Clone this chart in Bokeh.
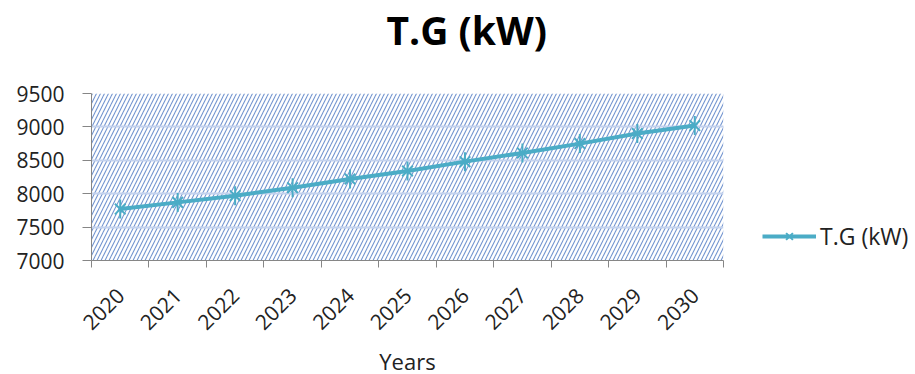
from bokeh.plotting import figure
from bokeh.models import (Range1d, FixedTicker, Legend, LegendItem,
                          ColumnDataSource, Title)
from bokeh.embed import file_html
from bokeh.resources import INLINE
import math

years = ["2020", "2021", "2022", "2023", "2024", "2025", "2026", "2027", "2028", "2029", "2030"]
tg_kw = [7770, 7870, 7970, 8090, 8220, 8340, 8480, 8610, 8750, 8900, 9020]
y_ticks = [7000, 7500, 8000, 8500, 9000, 9500]
series_name = "T.G (kW)"
title_text = "T.G (kW)"
x_label = "Years"

FONT = "Open Sans"
LINE_COLOR = "#4BACC6"

xpos = [i + 0.5 for i in range(len(years))]
src = ColumnDataSource(dict(x=xpos, y=tg_kw, year=years))

p = figure(frame_width=632, frame_height=167, output_backend="svg", toolbar_location=None,
           x_range=Range1d(0, len(years)), y_range=Range1d(y_ticks[0], y_ticks[-1]),
           min_border_left=91, min_border_right=192, min_border_top=93,
           min_border_bottom=114, background_fill_color="white",
           border_fill_color="white", outline_line_color=None)

# spacer between title and plot area (first 'above' item sits next to the frame)
spacer = Title(text=" ", text_font=FONT, text_font_size="10px", standoff=22)
p.add_layout(spacer, "above")
t = Title(text=title_text, text_font=FONT, text_font_size="39px",
          text_font_style="bold", text_color="black", align="left",
          standoff=0, offset=295)
p.add_layout(t, "above")
p.title.visible = False

# hatched plot area
p.quad(left=[0], right=[len(years)], bottom=[y_ticks[0]], top=[y_ticks[-1]],
       fill_color="white", fill_alpha=1.0, line_color=None,
       hatch_pattern="/", hatch_color="#5A82C8", hatch_scale=8,
       hatch_weight=1.1, hatch_alpha=0.85, level="image")

# axes
p.xaxis.ticker = FixedTicker(ticks=xpos, minor_ticks=list(range(len(years) + 1)))
p.xaxis.major_label_overrides = {x: y for x, y in zip(xpos, years)}
p.xaxis.major_tick_out = 0
p.xaxis.major_tick_in = 0
p.xaxis.minor_tick_out = 7
p.xaxis.minor_tick_in = 0
p.xaxis.minor_tick_line_color = "#868686"
p.xaxis.axis_line_color = "#868686"
p.xaxis.major_label_orientation = math.pi / 4
p.xaxis.major_label_standoff = 24
p.xaxis.major_label_text_font = FONT
p.xaxis.major_label_text_font_size = "21px"
p.xaxis.major_label_text_color = "#222222"
p.xaxis.axis_label = x_label
p.xaxis.axis_label_text_font = FONT
p.xaxis.axis_label_text_font_size = "22px"
p.xaxis.axis_label_text_font_style = "normal"
p.xaxis.axis_label_text_color = "#222222"
p.xaxis.axis_label_standoff = 6

p.yaxis.ticker = FixedTicker(ticks=y_ticks)
p.yaxis.minor_tick_line_color = None
p.yaxis.major_tick_out = 9
p.yaxis.major_tick_in = 0
p.yaxis.major_tick_line_color = "#868686"
p.yaxis.axis_line_color = "#868686"
p.yaxis.major_label_standoff = 18
p.yaxis.major_label_text_font = FONT
p.yaxis.major_label_text_font_size = "21px"
p.yaxis.major_label_text_color = "#222222"

p.xgrid.visible = False
p.ygrid.grid_line_color = "#C3D2EE"
p.ygrid.grid_line_width = 2

ln = p.line("x", "y", source=src, line_color=LINE_COLOR, line_width=4)
mk1 = p.scatter("x", "y", source=src, marker="x", size=15,
                line_color=LINE_COLOR, line_width=2)
mk2 = p.scatter("x", "y", source=src, marker="dash", size=19, angle=math.pi / 2,
                line_color=LINE_COLOR, line_width=2)

legend = Legend(items=[LegendItem(label=series_name, renderers=[ln, mk1, mk2])],
                location=(39, 8), border_line_color=None,
                background_fill_alpha=0, padding=0, margin=0,
                glyph_width=54, glyph_height=24, label_standoff=4,
                label_text_font=FONT, label_text_font_size="23px",
                label_text_color="#222222")
p.add_layout(legend, "right")

open("out.html", "w").write(file_html(p, INLINE))
